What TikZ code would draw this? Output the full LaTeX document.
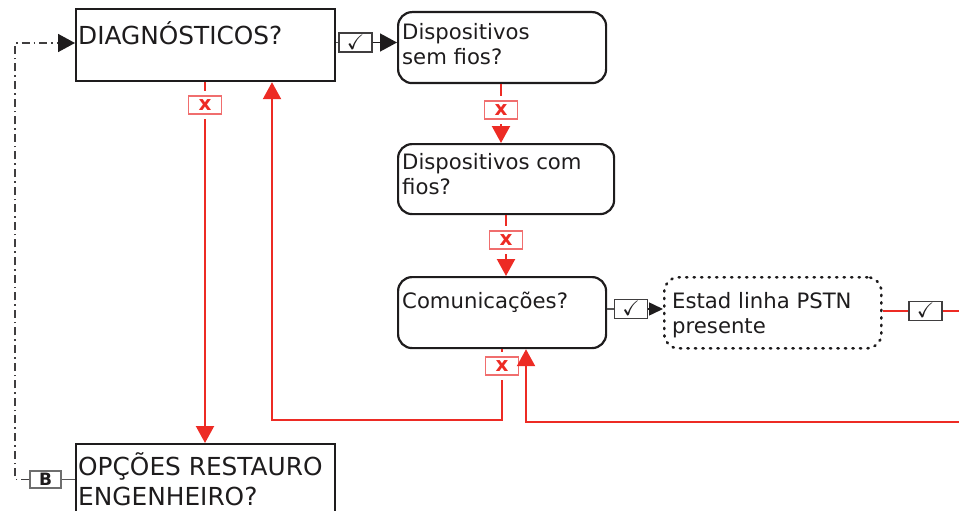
\documentclass[tikz,border=0pt]{standalone}
\usepackage{fontspec}
\setmainfont{DejaVu Sans}
\usepackage{amssymb}
\usetikzlibrary{arrows.meta}

\definecolor{flowred}{RGB}{237,43,36}
\definecolor{ink}{RGB}{30,28,29}
\definecolor{xedge}{RGB}{240,110,110}
\definecolor{keyedge}{RGB}{110,110,110}

\tikzset{
  plainbox/.style={draw=ink, line width=2.2pt, inner sep=0pt, anchor=north west},
  roundbox/.style={plainbox, rounded corners=14pt},
  dotbox/.style={roundbox, line width=2.6pt, line cap=round, dash pattern=on 1.2pt off 6.3pt},
  bigtext/.style={anchor=north west, inner sep=0pt, align=left, text=ink,
    font=\fontsize{24.8}{30}\selectfont},
  boxtext/.style={anchor=north west, inner sep=0pt, align=left, text=ink,
    font=\fontsize{21.2}{25}\selectfont},
  yesbox/.style={draw=ink!85, line width=1.3pt, fill=white, minimum width=33pt,
    minimum height=19pt, inner sep=0pt, text=ink},
  nobox/.style={draw=xedge, line width=1.3pt, minimum width=33pt, minimum height=18pt,
    inner sep=0pt, outer sep=5pt, text=flowred, font=\bfseries\fontsize{20}{20}\selectfont},
  keybox/.style={draw=keyedge, line width=1.3pt, minimum width=31pt, minimum height=17pt,
    inner sep=0pt, text=ink, font=\bfseries\fontsize{17}{17}\selectfont},
  thinlink/.style={draw=ink!75, line width=1.5pt},
  bigtip/.style={-{Triangle[width=18pt,length=17pt]}},
  smalltip/.style={-{Triangle[width=13pt,length=14pt]}},
  blacklink/.style={thinlink, draw=ink, bigtip},
  redline/.style={draw=flowred, line width=2.2pt},
  redarrow/.style={redline, bigtip},
  looplink/.style={draw=ink!85, line width=1.6pt,
    dash pattern=on 8pt off 4pt on 1.6pt off 4pt,
    -{Triangle[width=18pt,length=17pt,color=ink]}},
}
% tick mark sized to sit inside a 19pt tag
\newcommand\yestick{\raisebox{1pt}{\fontsize{21}{21}\selectfont\checkmark}}

\begin{document}
\begin{tikzpicture}[x=1pt,y=-1pt]
\useasboundingbox (0,0) rectangle (959,511);

% question boxes
\node[plainbox, minimum width=259pt, minimum height=72pt] (diag) at (75,8) {};
\node[bigtext] (diagtxt) at (78,21) {\strut DIAGNÓSTICOS?};

\node[roundbox, minimum width=208pt, minimum height=71pt] (wireless) at (397,11) {};
\node[boxtext] (wirelesstxt) at (402,21.5) {\strut Dispositivos\\sem fios?};

\node[roundbox, minimum width=216pt, minimum height=70pt] (wired) at (397,143) {};
\node[boxtext] (wiredtxt) at (402,151.5) {\strut Dispositivos com\\fios?};

\node[roundbox, minimum width=208pt, minimum height=71pt] (comms) at (397,276) {};
\node[boxtext] (commstxt) at (402,290.5) {\strut Comunicações?};

\node[dotbox, minimum width=217pt, minimum height=71pt] (pstn) at (663,276) {};
\node[boxtext] (pstntxt) at (672,290.5) {\strut Estad linha PSTN\\presente};

\node[plainbox, minimum width=259pt, minimum height=90pt] (restore) at (75,443) {};
\node[bigtext] (restoretxt) at (78,452) {\strut OPÇÕES RESTAURO\\ENGENHEIRO?};

% answer tags
\node[yesbox] (ok1) at (355.5,42.5) {\yestick};
\node[yesbox] (ok2) at (631,309) {\yestick};
\node[yesbox] (ok3) at (925.5,311) {\yestick};

\node[nobox] (no0) at (205,105) {x};
\node[nobox] (no1) at (501,110) {x};
\node[nobox] (no2) at (506,240) {x};
\node[nobox] (no3) at (502,366) {x};

\node[keybox] (bkey) at (45.5,479.5) {B};

% free ends and corners
\coordinate (outR) at (959,311);
\coordinate (backR) at (959,422);
\coordinate (upC) at (526,422);
\coordinate (backL) at (272,420);
\coordinate (loopL) at (15,43);

% yes branches
\draw[thinlink] (diag.east |- ok1) -- (ok1);
\draw[blacklink] (ok1) -- (wireless.west |- ok1);
\draw[thinlink] (comms.east |- ok2) -- (ok2);
\draw[thinlink, draw=ink, smalltip] (ok2) -- (pstn.west |- ok2);
\draw[redline] (pstn.east |- ok3) -- (ok3);
\draw[redline] (ok3) -- (outR);

% no branches
\draw[redline] (diag.south -| no0) -- (no0);
\draw[redarrow] (no0) -- (restore.north -| no0);
\draw[redline] (wireless.south -| no1) -- (no1);
\draw[redarrow] (no1) -- (wired.north -| no1);
\draw[redline] (wired.south -| no2) -- (no2);
\draw[redarrow] (no2) -- (comms.north -| no2);
\draw[redline] (comms.south -| no3) -- (no3);
\draw[redarrow] (no3) |- (backL) -- (diag.south -| backL);

% return into Comunicações
\draw[redarrow] (backR) -- (upC) -- (comms.south -| upC);

% back key loop
\draw[thinlink] (bkey) -- (restore.west |- bkey);
\draw[looplink] (bkey) -| (loopL) -- (diag.west |- loopL);
\end{tikzpicture}
\end{document}
